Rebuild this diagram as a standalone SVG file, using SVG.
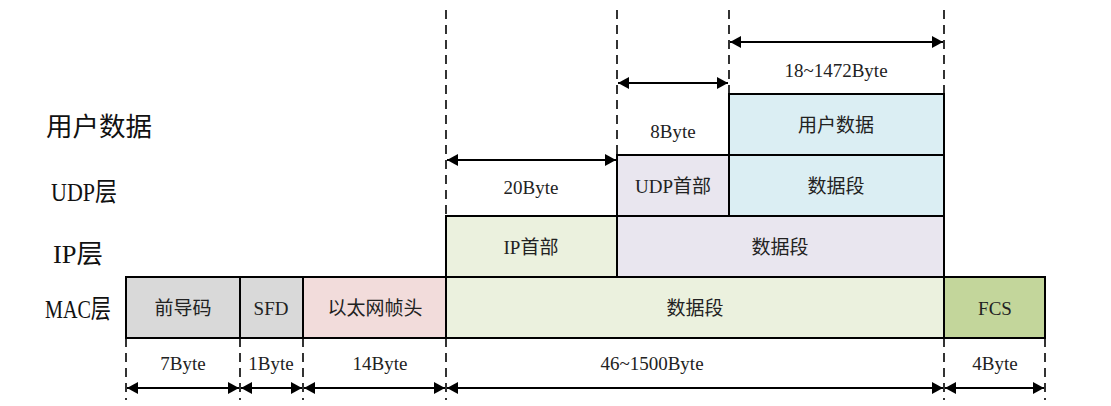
<svg xmlns="http://www.w3.org/2000/svg" width="1111" height="406" viewBox="0 0 1111 406">
<defs>
<marker id="ah" viewBox="0 0 10 10" refX="10" refY="5" markerWidth="11" markerHeight="12" orient="auto-start-reverse" markerUnits="userSpaceOnUse" preserveAspectRatio="none">
<path d="M0,0 L10,5 L0,10 Z" fill="#000"/>
</marker>
<style>
.box{stroke:#000;stroke-width:2}
.t{font-family:"Liberation Serif","Noto Sans CJK SC",serif;font-size:19px;fill:#222;text-anchor:middle;dominant-baseline:central}
.lbl{font-family:"Liberation Serif","Noto Sans CJK SC",serif;font-size:26px;fill:#111;dominant-baseline:central}
.dash{stroke:#000;stroke-width:1.6;stroke-dasharray:9,6;fill:none}
.dim{stroke:#000;stroke-width:2;fill:none;marker-start:url(#ah);marker-end:url(#ah)}
</style>
</defs>
<g id="layer-labels">
<text class="lbl" x="46" y="127" textLength="106" lengthAdjust="spacingAndGlyphs">用户数据</text>
<text class="lbl" x="51" y="192" textLength="66" lengthAdjust="spacingAndGlyphs">UDP层</text>
<text class="lbl" x="53" y="254" textLength="50" lengthAdjust="spacingAndGlyphs">IP层</text>
<text class="lbl" x="45" y="309" textLength="66" lengthAdjust="spacingAndGlyphs">MAC层</text>
</g>
<g id="connectors">
<line class="dash" x1="446" y1="10" x2="446" y2="216"/>
<line class="dash" x1="617" y1="10" x2="617" y2="155"/>
<line class="dash" x1="729" y1="10" x2="729" y2="94"/>
<line class="dash" x1="944" y1="10" x2="944" y2="94"/>
<line class="dash" x1="126" y1="338" x2="126" y2="400"/>
<line class="dash" x1="240" y1="338" x2="240" y2="400"/>
<line class="dash" x1="303" y1="338" x2="303" y2="400"/>
<line class="dash" x1="446" y1="338" x2="446" y2="400"/>
<line class="dash" x1="944" y1="338" x2="944" y2="400"/>
<line class="dash" x1="1045" y1="338" x2="1045" y2="400"/>
<line class="dim" x1="730" y1="42" x2="943" y2="42"/>
<line class="dim" x1="618" y1="83" x2="728" y2="83"/>
<line class="dim" x1="447" y1="160" x2="616" y2="160"/>
<line class="dim" x1="127" y1="388" x2="239" y2="388"/>
<line class="dim" x1="241" y1="388" x2="302" y2="388"/>
<line class="dim" x1="304" y1="388" x2="445" y2="388"/>
<line class="dim" x1="447" y1="388" x2="943" y2="388"/>
<line class="dim" x1="945" y1="388" x2="1044" y2="388"/>
</g>
<g id="dim-labels">
<text class="t" x="836" y="70">18~1472Byte</text>
<text class="t" x="673" y="131">8Byte</text>
<text class="t" x="531" y="187">20Byte</text>
<text class="t" x="183" y="363">7Byte</text>
<text class="t" x="271" y="363">1Byte</text>
<text class="t" x="380" y="363">14Byte</text>
<text class="t" x="652" y="363">46~1500Byte</text>
<text class="t" x="995" y="363">4Byte</text>
</g>
<g id="user-data">
<rect class="box" x="729" y="94" width="215" height="61" fill="#dbeef3"/>
<text class="t" x="836" y="125">用户数据</text>
</g>
<g id="udp-header">
<rect class="box" x="617" y="155" width="112" height="61" fill="#e9e6ef"/>
<text class="t" x="673" y="186">UDP首部</text>
</g>
<g id="udp-data">
<rect class="box" x="729" y="155" width="215" height="61" fill="#dbeef3"/>
<text class="t" x="836" y="186">数据段</text>
</g>
<g id="ip-header">
<rect class="box" x="446" y="216" width="171" height="61" fill="#ebf1de"/>
<text class="t" x="531" y="247">IP首部</text>
</g>
<g id="ip-data">
<rect class="box" x="617" y="216" width="327" height="61" fill="#e9e6ef"/>
<text class="t" x="780" y="247">数据段</text>
</g>
<g id="preamble">
<rect class="box" x="126" y="277" width="114" height="61" fill="#d9d9d9"/>
<text class="t" x="183" y="308">前导码</text>
</g>
<g id="sfd">
<rect class="box" x="240" y="277" width="63" height="61" fill="#d9d9d9"/>
<text class="t" x="271" y="308">SFD</text>
</g>
<g id="eth-header">
<rect class="box" x="303" y="277" width="143" height="61" fill="#f2dcdb"/>
<text class="t" x="375" y="308">以太网帧头</text>
</g>
<g id="mac-data">
<rect class="box" x="446" y="277" width="498" height="61" fill="#ebf1de"/>
<text class="t" x="695" y="308">数据段</text>
</g>
<g id="fcs">
<rect class="box" x="944" y="277" width="101" height="61" fill="#c3d69b"/>
<text class="t" x="995" y="308">FCS</text>
</g>
</svg>
